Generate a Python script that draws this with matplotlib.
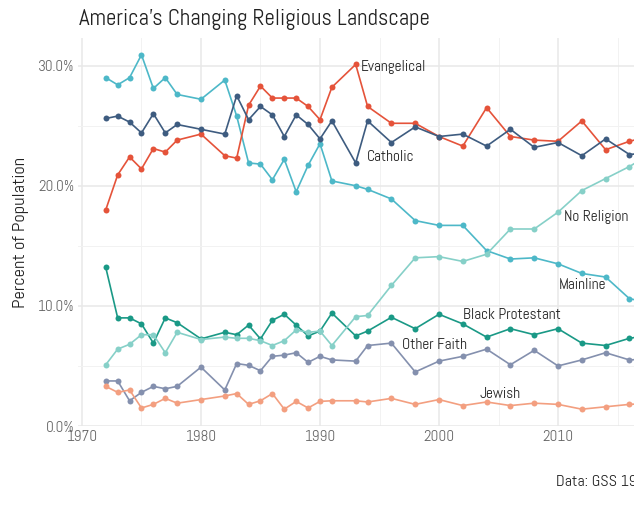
import matplotlib
matplotlib.use("Agg")
import matplotlib.pyplot as plt
from matplotlib.ticker import MultipleLocator, FuncFormatter, FixedLocator

plt.rcParams['font.family'] = ['Abel', 'DejaVu Sans']

years = [1972, 1973, 1974, 1975, 1976, 1977, 1978, 1980, 1982, 1983, 1984, 1985,
         1986, 1987, 1988, 1989, 1990, 1991, 1993, 1994, 1996, 1998, 2000, 2002,
         2004, 2006, 2008, 2010, 2012, 2014, 2016, 2018]

mainline = [29.0, 28.4, 29.0, 30.9, 28.1, 29.0, 27.6, 27.2, 28.8, 25.8, 21.9, 21.8,
            20.5, 22.2, 19.5, 21.7, 23.5, 20.4, 20.0, 19.7, 18.9, 17.1, 16.7, 16.7,
            14.6, 13.9, 14.0, 13.5, 12.7, 12.4, 10.6, 10.2]
evangelical = [18.0, 20.9, 22.4, 21.4, 23.1, 22.8, 23.8, 24.3, 22.5, 22.3, 26.7, 28.3,
               27.3, 27.3, 27.3, 26.6, 25.5, 28.2, 30.1, 26.6, 25.2, 25.2, 24.1, 23.3,
               26.5, 24.1, 23.8, 23.7, 25.4, 23.0, 23.7, 24.2]
catholic = [25.6, 25.8, 25.3, 24.4, 26.0, 24.4, 25.1, 24.7, 24.3, 27.5, 25.5, 26.6,
            25.9, 24.1, 25.9, 25.1, 23.9, 25.4, 21.9, 25.4, 23.6, 24.9, 24.1, 24.3,
            23.3, 24.7, 23.2, 23.6, 22.5, 23.9, 22.6, 22.8]
black_prot = [13.2, 9.0, 9.0, 8.5, 6.9, 9.0, 8.6, 7.25, 7.8, 7.6, 8.4, 7.25,
              8.8, 9.3, 8.4, 7.5, 7.9, 9.4, 7.5, 7.9, 9.05, 8.1, 9.3, 8.5,
              7.4, 8.1, 7.6, 8.1, 6.9, 6.7, 7.3, 7.6]
no_religion = [5.1, 6.4, 6.8, 7.6, 7.6, 6.1, 7.8, 7.2, 7.4, 7.3, 7.3, 7.1,
               6.7, 7.1, 8.0, 7.8, 7.9, 6.7, 9.1, 9.2, 11.7, 14.0, 14.1, 13.7,
               14.3, 16.4, 16.4, 17.8, 19.6, 20.6, 21.6, 22.8]
other_faith = [3.75, 3.75, 2.1, 2.8, 3.3, 3.1, 3.3, 4.9, 3.0, 5.2, 5.05, 4.6,
               5.8, 5.9, 6.1, 5.3, 5.8, 5.5, 5.4, 6.7, 6.9, 4.5, 5.4, 5.8,
               6.4, 5.1, 6.3, 5.0, 5.5, 6.1, 5.5, 5.6]
jewish = [3.3, 2.8, 3.0, 1.5, 1.8, 2.3, 1.9, 2.2, 2.5, 2.7, 1.8, 2.1,
          2.7, 1.4, 2.05, 1.5, 2.05, 2.1, 2.1, 2.0, 2.3, 1.8, 2.2, 1.7,
          2.0, 1.7, 1.9, 1.8, 1.4, 1.6, 1.8, 1.9]

series_names = ["Mainline", "Evangelical", "Catholic", "Black Protestant",
                "No Religion", "Other Faith", "Jewish"]
series_values = [mainline, evangelical, catholic, black_prot,
                 no_religion, other_faith, jewish]
colors = ["#4DB8C8", "#E5533A", "#3E5C80", "#1A9986",
          "#86D0C8", "#8490AE", "#F39F80"]

label_pos = {
    "Evangelical": (1993.4, 29.9),
    "Catholic": (1993.9, 22.4),
    "No Religion": (2010.5, 17.4),
    "Mainline": (2010.1, 11.75),
    "Black Protestant": (2002.0, 9.2),
    "Other Faith": (1996.9, 6.75),
    "Jewish": (2003.4, 2.7),
}

x_major = [1970, 1980, 1990, 2000, 2010, 2020]
x_labels = ["1970", "1980", "1990", "2000", "2010", ""]

fig = plt.figure(figsize=(6.34, 5.05), dpi=100)
ax = fig.add_axes([78.4 / 634, 79 / 505, (680.6 - 78.4) / 634, (426 - 38) / 505])

for name, vals, c in zip(series_names, series_values, colors):
    ax.plot(years, vals, color=c, lw=1.2, marker='o', ms=4.3,
            markeredgewidth=0, zorder=3)

for name, (x, y) in label_pos.items():
    ax.text(x, y, name, fontsize=11, color="#222222", ha='left', va='center', zorder=4)

ax.set_xlim(1969.7, 2020.3)
ax.set_ylim(0, 32.3)
ax.set_xticks(x_major)
ax.set_xticklabels(x_labels)
ax.xaxis.set_minor_locator(MultipleLocator(5))
ax.yaxis.set_major_locator(MultipleLocator(10))
ax.yaxis.set_minor_locator(MultipleLocator(5))
ax.yaxis.set_major_formatter(FuncFormatter(lambda v, p: f"{v:.1f}%"))
ax.grid(which='major', color='#e8e8e8', lw=1.1)
ax.grid(which='minor', color='#f2f2f2', lw=0.7)
ax.set_axisbelow(True)
for s in ax.spines.values():
    s.set_visible(False)
ax.tick_params(which='both', length=0, labelsize=11, labelcolor='#666666', pad=3)

ax.set_ylabel("Percent of Population", fontsize=13.3, color='#222222', labelpad=6)
fig.text(79 / 634, 1 - 20 / 505, "America's Changing Religious Landscape",
         fontsize=16.6, color='#222222', ha='left', va='center')
fig.text(556 / 634, 1 - 482 / 505, "Data: GSS 1972-2018", fontsize=11.5,
         color='#222222', ha='left', va='center')

fig.savefig("out.png", dpi=100)
